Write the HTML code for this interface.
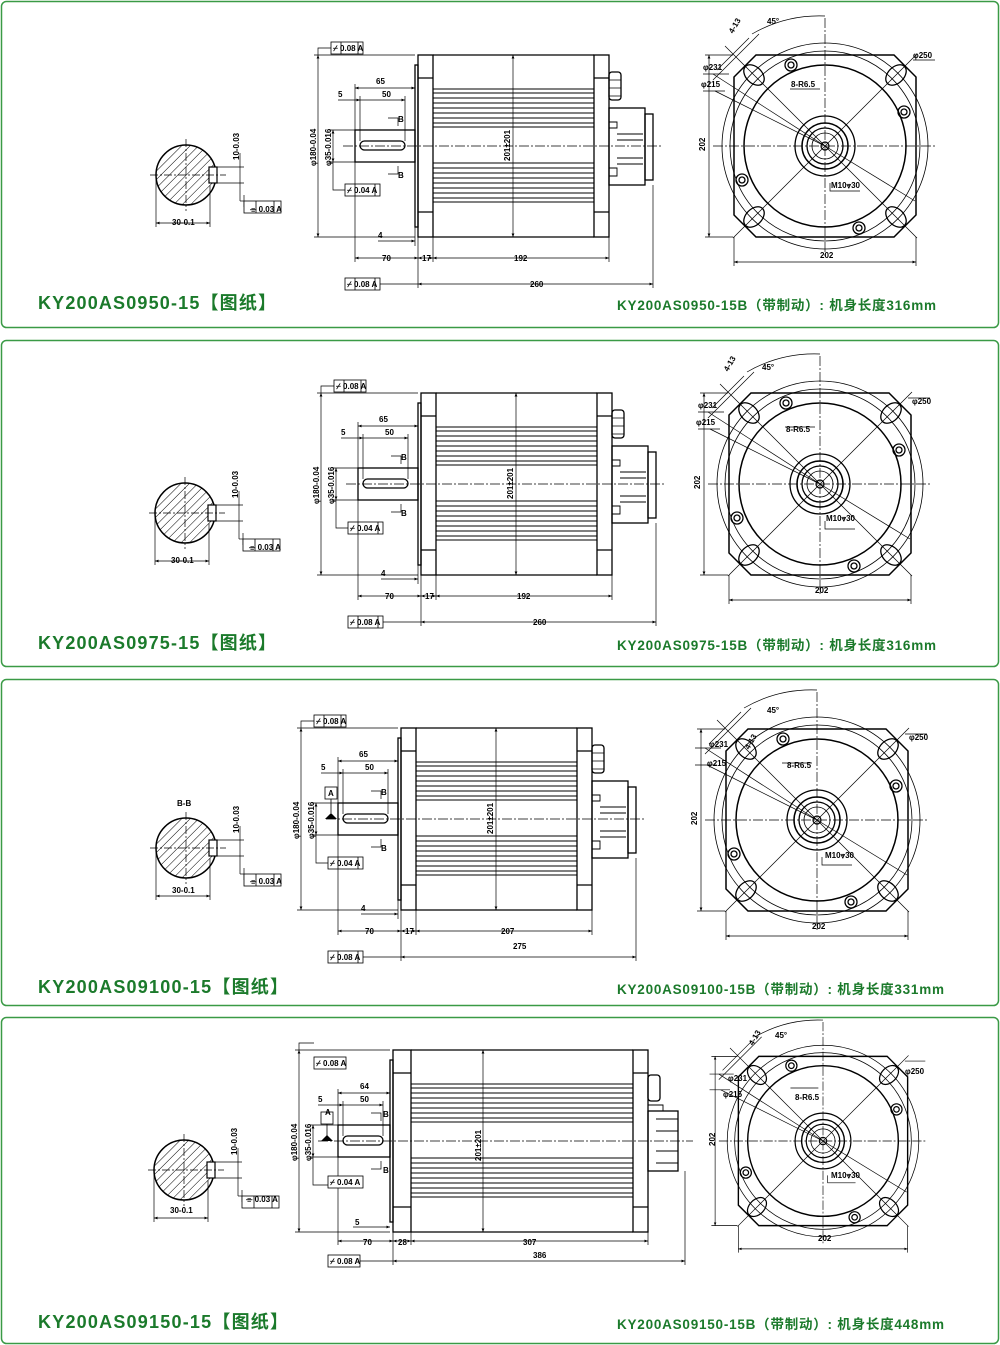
<!DOCTYPE html>
<html><head><meta charset="utf-8">
<style>
html,body{margin:0;padding:0;background:#fff;}
svg{display:block;}
.t{font-family:"Liberation Sans","Noto Sans CJK SC",sans-serif;font-weight:bold;fill:#1b7a2b;}
.d{font-family:"Liberation Sans",sans-serif;font-size:8px;font-weight:bold;fill:#000;}
</style></head><body>
<svg width="1000" height="1345" viewBox="0 0 1000 1345" xmlns="http://www.w3.org/2000/svg">
<defs>
<pattern id="h" width="6" height="6" patternUnits="userSpaceOnUse" patternTransform="rotate(45)">
<line x1="0" y1="0" x2="0" y2="6" stroke="#000" stroke-width="1"/></pattern>
<marker id="a" markerWidth="6" markerHeight="6" refX="5" refY="3" orient="auto-start-reverse"><path d="M0,1 L5,3 L0,5 Z" fill="#000"/></marker>

<g id="sect">
<circle cx="0" cy="0" r="30" fill="url(#h)" stroke="#000" stroke-width="1.5"/>
<rect x="23" y="-8" width="8" height="16" fill="#fff" stroke="#000" stroke-width="1.2"/>
<g stroke="#000" stroke-width="0.7" fill="none">
<line x1="-36" y1="0" x2="40" y2="0" stroke-dasharray="8,2,2,2"/>
<line x1="0" y1="-36" x2="0" y2="36" stroke-dasharray="8,2,2,2"/>
<line x1="31" y1="-8" x2="58" y2="-8"/><line x1="31" y1="8" x2="58" y2="8"/>
<line x1="54" y1="-22" x2="54" y2="26"/>
<line x1="54" y1="26" x2="58" y2="26"/><line x1="58" y1="20" x2="58" y2="32"/>
<line x1="-30" y1="2" x2="-30" y2="52"/><line x1="24" y1="10" x2="24" y2="52"/>
<line x1="-30" y1="48" x2="24" y2="48" marker-start="url(#a)" marker-end="url(#a)"/>
</g>
<rect x="58" y="26" width="37" height="12" fill="#fff" stroke="#000" stroke-width="0.8"/>
<line x1="70" y1="26" x2="70" y2="38" stroke="#000" stroke-width="0.8"/><line x1="88" y1="26" x2="88" y2="38" stroke="#000" stroke-width="0.8"/>
</g>

<g id="endv" fill="none" stroke="#000">
<path d="M-69,-91 H69 L91,-69 V69 L69,91 H-69 L-91,69 V-69 Z" stroke-width="1.5"/>
<circle r="103" stroke-width="0.8"/>
<circle r="95" stroke-width="0.8"/>
<circle r="81" stroke-width="1.5"/>
<circle r="30" stroke-width="1.3"/>
<circle r="23" stroke-width="1.5"/>
<circle r="18" stroke-width="1.3"/>
<circle r="13" stroke-width="0.8"/>
<circle r="4" stroke-width="1.2"/>
<g stroke-width="0.7">
<line x1="-112" y1="0" x2="112" y2="0" stroke-dasharray="10,2,2,2"/>
<line x1="0" y1="-128" x2="0" y2="112" stroke-dasharray="10,2,2,2"/>
<line x1="-92" y1="-92" x2="92" y2="92"/><line x1="92" y1="-92" x2="-92" y2="92"/>
<line x1="-110" y1="-55" x2="0" y2="0"/><line x1="-112" y1="-72" x2="0" y2="0"/>
<line x1="0" y1="0" x2="90" y2="55"/>
<path d="M-92,-92 L-100,-100 M-76,-108 L-108,-76 M-66,-112 L-112,-66"/>
<path d="M-73,-112 A135,135 0 0 1 0,-130"/>
<line x1="-120" y1="-91" x2="-92" y2="-91"/><line x1="-120" y1="91" x2="-92" y2="91"/>
<line x1="-116" y1="-91" x2="-116" y2="91" marker-start="url(#a)" marker-end="url(#a)"/>
<line x1="-91" y1="91" x2="-91" y2="120"/><line x1="91" y1="91" x2="91" y2="120"/>
<line x1="-91" y1="116" x2="91" y2="116" marker-start="url(#a)" marker-end="url(#a)"/>
<path d="M-122,-72 H-96 M-122,-55 H-100 M-35,-57 H-5 M5,37 V45 H35 M88,-86 H110"/>
</g>
<g stroke-width="1.3">
<ellipse cx="-71" cy="-71" rx="12" ry="8" transform="rotate(45 -71 -71)"/>
<ellipse cx="71" cy="-71" rx="12" ry="8" transform="rotate(-45 71 -71)"/>
<ellipse cx="-71" cy="71" rx="12" ry="8" transform="rotate(-45 -71 71)"/>
<ellipse cx="71" cy="71" rx="12" ry="8" transform="rotate(45 71 71)"/>
<circle cx="-34" cy="-81" r="6"/><circle cx="-34" cy="-81" r="3"/>
<circle cx="79" cy="-34" r="6"/><circle cx="79" cy="-34" r="3"/>
<circle cx="-83" cy="34" r="6"/><circle cx="-83" cy="34" r="3"/>
<circle cx="34" cy="82" r="6"/><circle cx="34" cy="82" r="3"/>
</g>
</g>

<g id="sideA" fill="none" stroke="#000" stroke-width="1.3">
<rect x="-3" y="-81" width="3" height="162"/>
<rect x="0" y="-91" width="15" height="182"/>
<path d="M0,-68H15M0,66H15M15,-91H176M15,91H176M176,-68H191M176,66H191"/>
<rect x="176" y="-91" width="15" height="182"/>
<path stroke-width="0.9" d="M15,-57H176M15,-53H176M15,-48H176M15,-43H176M15,-38H176M15,-33H176M15,-28H176M15,-23H176M15,-19H176M15,17H176M15,22H176M15,27H176M15,32H176M15,37H176M15,42H176M15,47H176M15,52H176M15,56H176"/>
<rect x="-63" y="-16" width="60" height="32"/>
<rect x="-58" y="-5" width="45" height="9" rx="4.5"/>
<rect x="191" y="-38" width="36" height="77"/>
<rect x="227" y="-32" width="8" height="66"/>
<path stroke-width="0.9" d="M191,-24H199V-18H191M199,-12H225M199,-6H225M199,12H225M199,18H225M191,22H199V30H191"/>
<rect x="191" y="-74" width="12" height="28" rx="3"/>
<path stroke-width="0.8" d="M191,-66H203M191,-58H203M191,-50H203"/>
<g stroke-width="0.7">
<line x1="-75" y1="0" x2="245" y2="0" stroke-dasharray="10,2,2,2"/>
<line x1="95" y1="-91" x2="95" y2="91" marker-start="url(#a)" marker-end="url(#a)"/>
<path d="M-104,-91H-3M-104,91H-3M-89,-16H-63M-89,16H-63"/>
<line x1="-100" y1="-91" x2="-100" y2="91" marker-start="url(#a)" marker-end="url(#a)"/>
<line x1="-85" y1="-16" x2="-85" y2="16" marker-start="url(#a)" marker-end="url(#a)"/>
<path d="M-85,16V44H-73M-100,-91V-98H-87"/>
<path d="M-63,-62V-16M-3,-62V-16M-58,-50V-5M-13,-50V-5"/>
<line x1="-63" y1="-58" x2="-3" y2="-58" marker-start="url(#a)" marker-end="url(#a)"/>
<line x1="-58" y1="-46" x2="-13" y2="-46" marker-end="url(#a)"/>
<line x1="-80" y1="-46" x2="-58" y2="-46" marker-end="url(#a)"/>
<line x1="-40" y1="95" x2="-3" y2="95" marker-end="url(#a)"/>
<path d="M-63,16V116M0,91V142M15,91V116M191,91V116M235,39V142M-3,81V100"/>
<line x1="-63" y1="112" x2="0" y2="112" marker-start="url(#a)" marker-end="url(#a)"/>
<line x1="0" y1="112" x2="15" y2="112" marker-start="url(#a)" marker-end="url(#a)"/>
<line x1="15" y1="112" x2="191" y2="112" marker-start="url(#a)" marker-end="url(#a)"/>
<line x1="0" y1="138" x2="235" y2="138" marker-start="url(#a)" marker-end="url(#a)"/>
<path d="M-40,138H0M-30,-28H-20V-20M-30,28H-20V20"/>
</g>
<rect x="-87" y="-104" width="32" height="12" fill="#fff" stroke-width="0.8"/>
<rect x="-73" y="38" width="35" height="12" fill="#fff" stroke-width="0.8"/>
<rect x="-73" y="132" width="35" height="12" fill="#fff" stroke-width="0.8"/>
<path stroke-width="0.8" d="M-77,-104V-92M-60,-104V-92M-63,38V50M-43,38V50M-63,132V144M-43,132V144"/>
</g>

<g id="sideB" fill="none" stroke="#000" stroke-width="1.3">
<rect x="-3" y="-81" width="3" height="162"/>
<rect x="0" y="-91" width="18" height="182"/>
<path d="M0,-68H18M0,66H18M18,-91H240M18,91H240M240,-68H255M240,66H255"/>
<rect x="240" y="-91" width="15" height="182"/>
<path stroke-width="0.9" d="M18,-57H240M18,-53H240M18,-48H240M18,-43H240M18,-38H240M18,-33H240M18,-28H240M18,-23H240M18,-19H240M18,17H240M18,22H240M18,27H240M18,32H240M18,37H240M18,42H240M18,47H240M18,52H240M18,56H240"/>
<rect x="-55" y="-16" width="52" height="32"/>
<rect x="-50" y="-5" width="40" height="9" rx="4.5"/>
<rect x="255" y="-30" width="30" height="60"/>
<path stroke-width="0.9" d="M263,-22H285M263,-10H285M263,10H285M263,22H285M255,-36H270V-30"/>
<rect x="255" y="-66" width="12" height="26" rx="3"/>
<g stroke-width="0.7">
<line x1="-75" y1="0" x2="300" y2="0" stroke-dasharray="10,2,2,2"/>
<line x1="90" y1="-91" x2="90" y2="91" marker-start="url(#a)" marker-end="url(#a)"/>
<path d="M-98,-91H-3M-98,91H-3M-83,-16H-55M-83,16H-55"/>
<line x1="-94" y1="-91" x2="-94" y2="91" marker-start="url(#a)" marker-end="url(#a)"/>
<line x1="-80" y1="-16" x2="-80" y2="16" marker-start="url(#a)" marker-end="url(#a)"/>
<path d="M-80,16V44H-65M-94,-91V-98H-79"/>
<path d="M-55,-52V-16M-3,-52V-16M-50,-40V-5M-10,-40V-5"/>
<line x1="-55" y1="-48" x2="-3" y2="-48" marker-start="url(#a)" marker-end="url(#a)"/>
<line x1="-50" y1="-36" x2="-10" y2="-36" marker-end="url(#a)"/>
<line x1="-75" y1="-36" x2="-50" y2="-36" marker-end="url(#a)"/>
<line x1="-40" y1="86" x2="-3" y2="86" marker-end="url(#a)"/>
<path d="M-55,16V104M0,91V124M18,91V104M255,91V104M292,30V124"/>
<line x1="-55" y1="100" x2="0" y2="100" marker-start="url(#a)" marker-end="url(#a)"/>
<line x1="0" y1="100" x2="18" y2="100" marker-start="url(#a)" marker-end="url(#a)"/>
<line x1="18" y1="100" x2="255" y2="100" marker-start="url(#a)" marker-end="url(#a)"/>
<line x1="0" y1="120" x2="292" y2="120" marker-start="url(#a)" marker-end="url(#a)"/>
<path d="M-40,120H0M-22,-28H-12V-20M-22,28H-12V20"/>
</g>
<rect x="-79" y="-84" width="32" height="12" fill="#fff" stroke-width="0.8"/>
<rect x="-65" y="35" width="35" height="12" fill="#fff" stroke-width="0.8"/>
<rect x="-65" y="114" width="32" height="12" fill="#fff" stroke-width="0.8"/>
<rect x="-72" y="-29" width="12" height="12" fill="#fff" stroke-width="0.8"/>
<path d="M-66,-17V-5" stroke-width="0.8"/><path d="M-72,0H-60L-66,-6Z" fill="#000" stroke="none"/>
</g>
</defs>

<g fill="none" stroke="#3a9a46" stroke-width="1.5">
<rect x="1.5" y="1.5" width="997" height="326" rx="5"/>
<rect x="1.5" y="340.5" width="997" height="326" rx="5"/>
<rect x="1.5" y="679.5" width="997" height="326" rx="5"/>
<rect x="1.5" y="1017.5" width="997" height="326" rx="5"/>
</g>

<!-- Panel 1 -->
<use href="#sect" x="186" y="175"/>
<text class="d" x="172" y="225">30-0.1</text>
<text class="d" transform="translate(239 160) rotate(-90)">10-0.03</text>
<text class="d" x="250" y="212">⌯ 0.03 A</text>
<use href="#sideA" x="418" y="146"/>
<g transform="translate(418 146)">
<text class="d" x="-42" y="-62">65</text><text class="d" x="-36" y="-49">50</text><text class="d" x="-80" y="-49">5</text>
<text class="d" x="-20" y="-24" font-size="11">B</text><text class="d" x="-20" y="32" font-size="11">B</text>
<text class="d" x="-40" y="92">4</text><text class="d" x="-36" y="115">70</text><text class="d" x="4" y="115">17</text>
<text class="d" x="96" y="115">192</text><text class="d" x="112" y="141">260</text>
<text class="d" transform="translate(92 15) rotate(-90)">201±201</text>
<text class="d" transform="translate(-102 20) rotate(-90)">φ180-0.04</text>
<text class="d" transform="translate(-87 20) rotate(-90)">φ35-0.016</text>
<text class="d" x="-85" y="-95">⌿ 0.08 A</text><text class="d" x="-71" y="47">⌿ 0.04 A</text><text class="d" x="-71" y="141">⌿ 0.08 A</text>
</g>
<use href="#endv" x="825" y="146"/>
<g transform="translate(825 146)">
<text class="d" x="-122" y="-76">φ231</text><text class="d" x="-124" y="-59">φ215</text>
<text class="d" x="-34" y="-59">8-R6.5</text><text class="d" x="88" y="-88">φ250</text>
<text class="d" x="6" y="42">M10⩔30</text><text class="d" x="-5" y="112">202</text>
<text class="d" transform="translate(-120 5) rotate(-90)">202</text>
<text class="d" transform="translate(-92 -112) rotate(-60)">4-13</text><text class="d" x="-58" y="-122">45°</text>
</g>
<text class="t" x="38" y="309" font-size="18" textLength="238" lengthAdjust="spacing">KY200AS0950-15【图纸】</text>
<text class="t" x="617" y="310" font-size="13.5" textLength="319" lengthAdjust="spacing">KY200AS0950-15B（带制动）: 机身长度316mm</text>

<!-- Panel 2 -->
<use href="#sect" x="185" y="513"/>
<text class="d" x="171" y="563">30-0.1</text>
<text class="d" transform="translate(238 498) rotate(-90)">10-0.03</text>
<text class="d" x="249" y="550">⌯ 0.03 A</text>
<use href="#sideA" x="421" y="484"/>
<g transform="translate(421 484)">
<text class="d" x="-42" y="-62">65</text><text class="d" x="-36" y="-49">50</text><text class="d" x="-80" y="-49">5</text>
<text class="d" x="-20" y="-24" font-size="11">B</text><text class="d" x="-20" y="32" font-size="11">B</text>
<text class="d" x="-40" y="92">4</text><text class="d" x="-36" y="115">70</text><text class="d" x="4" y="115">17</text>
<text class="d" x="96" y="115">192</text><text class="d" x="112" y="141">260</text>
<text class="d" transform="translate(92 15) rotate(-90)">201±201</text>
<text class="d" transform="translate(-102 20) rotate(-90)">φ180-0.04</text>
<text class="d" transform="translate(-87 20) rotate(-90)">φ35-0.016</text>
<text class="d" x="-85" y="-95">⌿ 0.08 A</text><text class="d" x="-71" y="47">⌿ 0.04 A</text><text class="d" x="-71" y="141">⌿ 0.08 A</text>
</g>
<use href="#endv" x="820" y="484"/>
<g transform="translate(820 484)">
<text class="d" x="-122" y="-76">φ231</text><text class="d" x="-124" y="-59">φ215</text>
<text class="d" x="-34" y="-52">8-R6.5</text><text class="d" x="92" y="-80">φ250</text>
<text class="d" x="6" y="37">M10⩔30</text><text class="d" x="-5" y="109">202</text>
<text class="d" transform="translate(-120 5) rotate(-90)">202</text>
<text class="d" transform="translate(-92 -112) rotate(-60)">4-13</text><text class="d" x="-58" y="-114">45°</text>
</g>
<text class="t" x="38" y="649" font-size="18" textLength="238" lengthAdjust="spacing">KY200AS0975-15【图纸】</text>
<text class="t" x="617" y="650" font-size="13.5" textLength="319" lengthAdjust="spacing">KY200AS0975-15B（带制动）: 机身长度316mm</text>

<!-- Panel 3 -->
<text class="d" x="177" y="806" font-size="11">B-B</text>
<use href="#sect" x="186" y="848"/>
<text class="d" x="172" y="893">30-0.1</text>
<text class="d" transform="translate(239 833) rotate(-90)">10-0.03</text>
<text class="d" x="250" y="884">⌯ 0.03 A</text>
<use href="#sideA" x="401" y="819"/>
<g transform="translate(401 819)">
<rect x="-76" y="-32" width="12" height="12" fill="#fff" stroke="#000" stroke-width="0.8"/>
<path d="M-70,-20V-6" stroke="#000" stroke-width="0.8"/><path d="M-76,0H-64L-70,-6Z" fill="#000"/>
<text class="d" x="-73" y="-23">A</text>
<text class="d" x="-42" y="-62">65</text><text class="d" x="-36" y="-49">50</text><text class="d" x="-80" y="-49">5</text>
<text class="d" x="-20" y="-24" font-size="11">B</text><text class="d" x="-20" y="32" font-size="11">B</text>
<text class="d" x="-40" y="92">4</text><text class="d" x="-36" y="115">70</text><text class="d" x="4" y="115">17</text>
<text class="d" x="100" y="115">207</text><text class="d" x="112" y="130">275</text>
<text class="d" transform="translate(92 15) rotate(-90)">201±201</text>
<text class="d" transform="translate(-102 20) rotate(-90)">φ180-0.04</text>
<text class="d" transform="translate(-87 20) rotate(-90)">φ35-0.016</text>
<text class="d" x="-85" y="-95">⌿ 0.08 A</text><text class="d" x="-71" y="47">⌿ 0.04 A</text><text class="d" x="-71" y="141">⌿ 0.08 A</text>
</g>
<use href="#endv" x="817" y="820"/>
<g transform="translate(817 820)">
<text class="d" x="-108" y="-73">φ231</text><text class="d" x="-110" y="-54">φ215</text>
<text class="d" x="-30" y="-52">8-R6.5</text><text class="d" x="92" y="-80">φ250</text>
<text class="d" x="8" y="38">M10⩔30</text><text class="d" x="-5" y="109">202</text>
<text class="d" transform="translate(-120 5) rotate(-90)">202</text>
<text class="d" transform="translate(-68 -70) rotate(-60)">4-13</text><text class="d" x="-50" y="-107">45°</text>
</g>
<text class="t" x="38" y="993" font-size="18" textLength="250" lengthAdjust="spacing">KY200AS09100-15【图纸】</text>
<text class="t" x="617" y="994" font-size="13.5" textLength="327" lengthAdjust="spacing">KY200AS09100-15B（带制动）: 机身长度331mm</text>

<!-- Panel 4 -->
<use href="#sect" x="184" y="1170"/>
<text class="d" x="170" y="1213">30-0.1</text>
<text class="d" transform="translate(237 1155) rotate(-90)">10-0.03</text>
<text class="d" x="246" y="1202">⌯ 0.03 A</text>
<use href="#sideB" x="393" y="1141"/>
<g transform="translate(393 1141)">
<text class="d" x="-68" y="-26">A</text>
<text class="d" x="-33" y="-52">64</text><text class="d" x="-33" y="-39">50</text><text class="d" x="-75" y="-39">5</text>
<text class="d" x="-10" y="-24" font-size="11">B</text><text class="d" x="-10" y="32" font-size="11">B</text>
<text class="d" x="-38" y="84">5</text><text class="d" x="-30" y="104">70</text><text class="d" x="5" y="104">28</text>
<text class="d" x="130" y="104">307</text><text class="d" x="140" y="117">386</text>
<text class="d" transform="translate(88 20) rotate(-90)">201±201</text>
<text class="d" transform="translate(-96 20) rotate(-90)">φ180-0.04</text>
<text class="d" transform="translate(-82 20) rotate(-90)">φ35-0.016</text>
<text class="d" x="-77" y="-75">⌿ 0.08 A</text><text class="d" x="-63" y="44">⌿ 0.04 A</text><text class="d" x="-63" y="123">⌿ 0.08 A</text>
</g>
<use href="#endv" transform="translate(823 1141) scale(0.93)"/>
<g transform="translate(823 1141)">
<text class="d" x="-95" y="-60">φ231</text><text class="d" x="-100" y="-44">φ215</text>
<text class="d" x="-28" y="-41">8-R6.5</text><text class="d" x="82" y="-67">φ250</text>
<text class="d" x="8" y="37">M10⩔30</text><text class="d" x="-5" y="100">202</text>
<text class="d" transform="translate(-108 5) rotate(-90)">202</text>
<text class="d" transform="translate(-70 -95) rotate(-60)">4-13</text><text class="d" x="-48" y="-103">45°</text>
</g>
<text class="t" x="38" y="1328" font-size="18" textLength="250" lengthAdjust="spacing">KY200AS09150-15【图纸】</text>
<text class="t" x="617" y="1329" font-size="13.5" textLength="327" lengthAdjust="spacing">KY200AS09150-15B（带制动）: 机身长度448mm</text>
</svg>
</body></html>
